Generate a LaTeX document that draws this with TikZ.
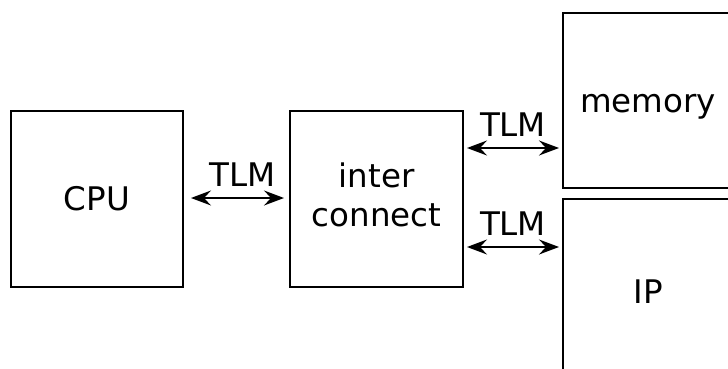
\documentclass[tikz,border=0pt]{standalone}
\usepackage{fontspec}
\setmainfont{DejaVu Sans}
\usetikzlibrary{arrows.meta}
\begin{document}
\begin{tikzpicture}[x=1pt,y=-1pt,
    box/.style={draw, line width=2pt, minimum width=172pt, minimum height=176pt,
      align=center, text height=23pt, text depth=0pt,
      font=\fontsize{32.5}{39}\selectfont},
    link/.style={<->, >={Stealth[length=20pt,width=15pt,inset=7pt]}, line width=1.8pt},
    tag/.style={font=\fontsize{32.5}{39}\selectfont, inner sep=0pt, above=11pt}]
  \useasboundingbox (0,0) rectangle (728,369);
  \clip (0,0) rectangle (728,369);
  \node[box] (cpu) at (97,199) {CPU};
  \node[box, minimum width=173pt, text height=54pt] (inter) at (376.5,199) {inter\\connect};
  \node[box, minimum width=170pt, minimum height=175pt] (mem) at (648,100.5) {memory};
  \node[box, minimum width=170pt, minimum height=185pt] (ip) at (648,291.5) {IP};
  % links
  \draw[link, shorten <=7pt, shorten >=5pt] ([yshift=1pt]cpu.east) -- ([yshift=1pt]inter.west)
    node[tag, pos=0.56] (t0) {TLM};
  \draw[link, shorten <=3pt, shorten >=3pt] ([yshift=51pt]inter.east) -- ([yshift=51pt]inter.east -| mem.west)
    node[tag, midway] (t1) {TLM};
  \draw[link, shorten <=3pt, shorten >=3pt] ([yshift=-48pt]inter.east) -- ([yshift=-48pt]inter.east -| ip.west)
    node[tag, midway] (t2) {TLM};
\end{tikzpicture}
\end{document}
